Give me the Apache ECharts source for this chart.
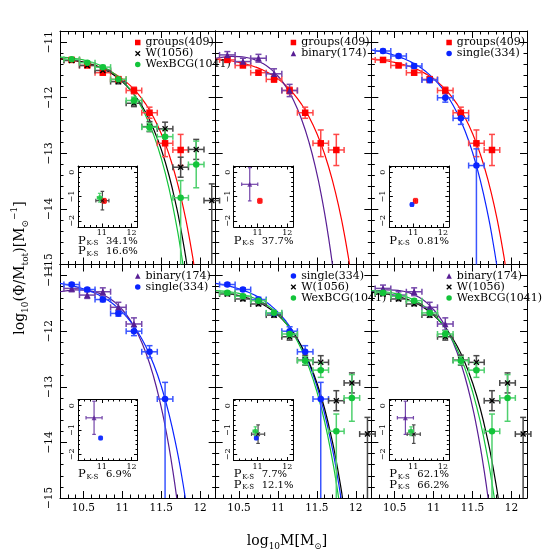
<!DOCTYPE html>
<html><head><meta charset="utf-8">
<script src="https://cdn.jsdelivr.net/npm/echarts@6/dist/echarts.min.js"></script>
<style>html,body{margin:0;padding:0;background:#fff}#c{width:558px;height:558px}</style>
</head><body><div id="c"></div>
<script>
// ================= DATA =================
// binned mass functions: log10 M (bin centres) and log10(Phi/Mtot)
const groupsX = [10.35,10.55,10.75,10.95,11.15,11.35,11.55,11.75];
const groupsY = [-11.32,-11.42,-11.55,-11.67,-11.87,-12.27,-12.82,-12.94];
const groupsErrLo = [0.03,0.03,0.04,0.05,0.06,0.10,0.24,0.28];
const groupsErrHi = [0.03,0.03,0.04,0.05,0.06,0.10,0.24,0.28];

const wX = [10.35,10.55,10.75,10.95,11.15,11.35,11.55,11.75,11.95,12.15];
const wY = [-11.33,-11.42,-11.51,-11.71,-12.10,-12.52,-12.56,-13.25,-12.93,-13.85];
const wErrLo = [0.03,0.03,0.03,0.04,0.06,0.09,0.12,0.18,0.18,9];
const wErrHi = [0.03,0.03,0.03,0.04,0.06,0.09,0.12,0.18,0.18,0.30];

const wexX = [10.35,10.55,10.75,10.95,11.15,11.35,11.55,11.75,11.95];
const wexY = [-11.31,-11.37,-11.45,-11.67,-12.05,-12.53,-12.70,-13.80,-13.20];
const wexErrLo = [0.03,0.03,0.03,0.04,0.06,0.07,0.13,9,0.42];
const wexErrHi = [0.03,0.03,0.03,0.04,0.06,0.07,0.13,0.31,0.42];

const binaryX = [10.35,10.55,10.75,10.95,11.15];
const binaryY = [-11.23,-11.35,-11.29,-11.57,-11.87];
const binaryErrLo = [0.06,0.06,0.07,0.09,0.11];
const binaryErrHi = [0.06,0.06,0.07,0.09,0.11];

const singleX = [10.35,10.55,10.75,10.95,11.15,11.35,11.55];
const singleY = [-11.16,-11.25,-11.43,-11.68,-12.00,-12.37,-13.22];
const singleErrLo = [0.03,0.03,0.04,0.05,0.08,0.11,9];
const singleErrHi = [0.03,0.03,0.04,0.05,0.08,0.11,0.30];

const massHalfBin = 0.1;

// fitted curves
const groupsCurveX = [10.2,10.3,10.4,10.5,10.6,10.7,10.8,10.9,11.0,11.1,11.2,11.3,11.4,11.5,11.6,11.7,11.8,11.85,11.9,11.92];
const groupsCurveY = [-11.30,-11.316,-11.337,-11.364,-11.398,-11.442,-11.498,-11.571,-11.662,-11.778,-11.925,-12.111,-12.346,-12.642,-13.015,-13.486,-14.079,-14.433,-14.828,-15.0];
const wCurveX = [10.2,10.3,10.4,10.5,10.6,10.7,10.8,10.9,11.0,11.1,11.2,11.3,11.4,11.5,11.6,11.7,11.75,11.8,11.83];
const wCurveY = [-11.30,-11.314,-11.333,-11.361,-11.399,-11.449,-11.515,-11.601,-11.711,-11.852,-12.033,-12.263,-12.555,-12.926,-13.395,-13.988,-14.342,-14.738,-15.0];
const wexCurveX = [10.2,10.3,10.4,10.5,10.6,10.7,10.8,10.9,11.0,11.1,11.2,11.3,11.4,11.5,11.6,11.7,11.74,11.78];
const wexCurveY = [-11.27,-11.278,-11.295,-11.320,-11.357,-11.408,-11.478,-11.571,-11.693,-11.851,-12.057,-12.319,-12.656,-13.084,-13.628,-14.318,-14.644,-15.0];
const binaryCurveX = [10.2,10.3,10.4,10.5,10.6,10.7,10.8,10.9,11.0,11.1,11.2,11.3,11.4,11.5,11.55,11.6,11.65,11.7];
const binaryCurveY = [-11.29,-11.269,-11.258,-11.260,-11.278,-11.316,-11.379,-11.474,-11.610,-11.796,-12.045,-12.375,-12.806,-13.364,-13.701,-14.082,-14.513,-15.0];
const singleCurveX = [10.2,10.3,10.4,10.5,10.6,10.7,10.8,10.9,11.0,11.1,11.2,11.3,11.4,11.5,11.6,11.7,11.76,11.81];
const singleCurveY = [-11.14,-11.165,-11.197,-11.237,-11.287,-11.350,-11.430,-11.530,-11.656,-11.815,-12.015,-12.267,-12.584,-12.983,-13.485,-14.117,-14.573,-15.0];

// inset fit parameters (log M*, alpha)
const insetKeys = ['groups','W','WexBCG','binary','single'];
const insetMstar = [11.08,11.02,10.93,10.74,10.96];
const insetMstarErr = [0.07,0.22,0.08,0.27,0.05];
const insetAlpha = [-1.18,-1.17,-1.05,-0.50,-1.33];
const insetAlphaErr = [0.10,0.38,0.18,0.68,0.07];

// panels
const panelSamples = [['groups','W','WexBCG'],['groups','binary'],['groups','single'],
                      ['binary','single'],['single','W','WexBCG'],['binary','W','WexBCG']];
const pksValues = [['34.1%','16.6%'],['37.7%'],['0.81%'],['6.9%'],['7.7%','12.1%'],['62.1%','66.2%']];
const sampleLabels = {groups:'groups(409)', W:'W(1056)', WexBCG:'WexBCG(1041)', binary:'binary(174)', single:'single(334)'};

// axis ticks
const xMajor = [10.5,11,11.5,12];
const xMinor = [10.3,10.4,10.6,10.7,10.8,10.9,11.1,11.2,11.3,11.4,11.6,11.7,11.8,11.9,12.1];
const yMajor = [-15,-14,-13,-12,-11];
const yMinor = [-14.8,-14.6,-14.4,-14.2,-13.8,-13.6,-13.4,-13.2,-12.8,-12.6,-12.4,-12.2,-11.8,-11.6,-11.4,-11.2,-10.8];
const inXMajor = [11,12];
const inXMinor = [10.4,10.6,10.8,11.2,11.4,11.6,11.8];
const inYMajor = [-2,-1,0];
const inYMinor = [-1.8,-1.6,-1.4,-1.2,-0.8,-0.6,-0.4,-0.2,0.2];

// ================= STYLE =================
const X_RANGE = [10.2,12.2], Y_RANGE = [-15,-10.8];
const IN_X_RANGE = [10.2,12.2], IN_Y_RANGE = [-2.25,0.25];
const FONT = 'DejaVu Serif';
const style = {
  groups: {color:'#ff0000', bar:'#ff4848', symbol:'rect', size:6.5},
  W:      {color:'#000000', bar:'#4a4a4a', symbol:'path://M0,1.6L1.6,0L5,3.4L8.4,0L10,1.6L6.6,5L10,8.4L8.4,10L5,6.6L1.6,10L0,8.4L3.4,5Z', size:6},
  WexBCG: {color:'#13c43a', bar:'#4fd06e', symbol:'circle', size:6.5},
  binary: {color:'#581e94', bar:'#7446aa', symbol:'triangle', size:6.5},
  single: {color:'#0a24ff', bar:'#3a55ff', symbol:'circle', size:6.5}
};
const sampleData = {
  groups: [groupsX, groupsY, groupsErrLo, groupsErrHi, groupsCurveX, groupsCurveY],
  W: [wX, wY, wErrLo, wErrHi, wCurveX, wCurveY],
  WexBCG: [wexX, wexY, wexErrLo, wexErrHi, wexCurveX, wexCurveY],
  binary: [binaryX, binaryY, binaryErrLo, binaryErrHi, binaryCurveX, binaryCurveY],
  single: [singleX, singleY, singleErrLo, singleErrHi, singleCurveX, singleCurveY]
};

const PL = 60, PW = 155.67, PT = 31, PH = 233.5;
function panelRect(i){ return {left: PL + (i%3)*PW, top: PT + Math.floor(i/3)*PH, width: PW, height: PH}; }

const opt = {animation:false, backgroundColor:'#fff', grid:[], xAxis:[], yAxis:[], series:[], legend:[], graphic:[]};
const minusFmt = v => String(v).replace('-', '\u2212');

function addFrame(rect, xr, yr, xMaj, xMin, yMaj, yMin, tMaj, tMin, showX, showY, fs, marg) {
  const g = opt.grid.length;
  opt.grid.push({left:rect.left, top:rect.top, width:rect.width, height:rect.height, show:false, containLabel:false, outerBoundsMode:'none'});
  const xi = opt.xAxis.length, yi = opt.yAxis.length;
  const line = {show:true, onZero:false, lineStyle:{color:'#000', width:1}};
  const noLine = {show:false, onZero:false};
  const tickStyle = {color:'#000', width:1};
  const lab = {fontFamily:FONT, fontSize:fs, color:'#000', margin:marg};
  ['bottom','top'].forEach((pos,k) => {
    opt.xAxis.push({type:'value', gridIndex:g, position:pos, min:xr[0], max:xr[1], axisLine:line, splitLine:{show:false},
      axisTick:{show:true, inside:true, length:tMaj, customValues:xMaj, lineStyle:tickStyle},
      axisLabel:Object.assign({show:k===0 && showX, customValues:xMaj, formatter:minusFmt}, lab)});
    opt.xAxis.push({type:'value', gridIndex:g, position:pos, min:xr[0], max:xr[1], axisLine:noLine, splitLine:{show:false},
      axisTick:{show:true, inside:true, length:tMin, customValues:xMin, lineStyle:tickStyle}, axisLabel:{show:false}});
  });
  ['left','right'].forEach((pos,k) => {
    opt.yAxis.push({type:'value', gridIndex:g, position:pos, min:yr[0], max:yr[1], axisLine:line, splitLine:{show:false},
      axisTick:{show:true, inside:true, length:tMaj, customValues:yMaj, lineStyle:tickStyle},
      axisLabel:Object.assign({show:k===0 && showY, customValues:yMaj, rotate:90, formatter:minusFmt}, lab)});
    opt.yAxis.push({type:'value', gridIndex:g, position:pos, min:yr[0], max:yr[1], axisLine:noLine, splitLine:{show:false},
      axisTick:{show:true, inside:true, length:tMin, customValues:yMin, lineStyle:tickStyle}, axisLabel:{show:false}});
  });
  return {xi, yi};
}

function errRender(color, yFloor, cap, lw) {
  return function(params, api) {
    const x = api.value(0), y = api.value(1);
    const c = api.coord([x, y]);
    const pL = api.coord([x - api.value(2), y]), pR = api.coord([x + api.value(3), y]);
    let yLo = y - api.value(4), capLo = true;
    if (yLo < yFloor) { yLo = yFloor; capLo = false; }
    const pB = api.coord([x, yLo]), pT = api.coord([x, y + api.value(5)]);
    const st = {stroke: color, lineWidth: lw};
    const ch = [
      {type:'line', shape:{x1:pL[0], y1:c[1], x2:pR[0], y2:c[1]}, style:st},
      {type:'line', shape:{x1:c[0], y1:pB[1], x2:c[0], y2:pT[1]}, style:st},
      {type:'line', shape:{x1:pL[0], y1:c[1]-cap, x2:pL[0], y2:c[1]+cap}, style:st},
      {type:'line', shape:{x1:pR[0], y1:c[1]-cap, x2:pR[0], y2:c[1]+cap}, style:st},
      {type:'line', shape:{x1:c[0]-cap, y1:pT[1], x2:c[0]+cap, y2:pT[1]}, style:st}
    ];
    if (capLo) ch.push({type:'line', shape:{x1:c[0]-cap, y1:pB[1], x2:c[0]+cap, y2:pB[1]}, style:st});
    return {type:'group', children:ch};
  };
}

for (let p = 0; p < 6; p++) {
  const r = panelRect(p);
  const col = p % 3, row = Math.floor(p/3);
  const main = addFrame(r, X_RANGE, Y_RANGE, xMajor, xMinor, yMajor, yMinor, 7, 3.5, row===1, col===0, 10.5, 5);
  const ir = {left:r.left+18, top:r.top+135, width:59.5, height:61};
  const ins = addFrame(ir, IN_X_RANGE, IN_Y_RANGE, inXMajor, inXMinor, inYMajor, inYMinor, 3.5, 2, true, true, 8, 2);
  const names = [];
  panelSamples[p].forEach(key => {
    const s = style[key];
    const [xs, ys, lo, hi, cx, cy] = sampleData[key];
    names.push(sampleLabels[key]);
    opt.series.push({type:'line', xAxisIndex:main.xi, yAxisIndex:main.yi, data:cx.map((v,i)=>[v, cy[i]]),
      showSymbol:false, smooth:0.5, lineStyle:{color:s.color, width:1.2}, z:2, silent:true});
    opt.series.push({type:'custom', xAxisIndex:main.xi, yAxisIndex:main.yi, renderItem:errRender(s.bar, Y_RANGE[0], 3, 1.5),
      data:xs.map((v,i)=>[v, ys[i], massHalfBin, massHalfBin, lo[i], hi[i]]), z:3, silent:true});
    opt.series.push({type:'scatter', name:sampleLabels[key], xAxisIndex:main.xi, yAxisIndex:main.yi,
      data:xs.map((v,i)=>[v, ys[i]]), symbol:s.symbol, symbolSize:s.size, itemStyle:{color:s.color, opacity:1}, z:4, silent:true});
    const k = insetKeys.indexOf(key);
    opt.series.push({type:'custom', xAxisIndex:ins.xi, yAxisIndex:ins.yi, renderItem:errRender(s.bar, IN_Y_RANGE[0], 1.8, 1.2),
      data:[[insetMstar[k], insetAlpha[k], insetMstarErr[k], insetMstarErr[k], insetAlphaErr[k], insetAlphaErr[k]]], z:5, silent:true});
    opt.series.push({type:'scatter', xAxisIndex:ins.xi, yAxisIndex:ins.yi, data:[[insetMstar[k], insetAlpha[k]]],
      symbol:s.symbol, symbolSize:s.size-1.5, itemStyle:{color:s.color}, z:6, silent:true});
  });
  opt.legend.push({orient:'vertical', left:r.left+75, top:r.top+6, itemWidth:5.5, itemHeight:5.5, itemGap:0, padding:0,
    selectedMode:false, data:names, textStyle:{fontFamily:FONT, fontSize:11, color:'#000', lineHeight:10.5}});
  const vals = pksValues[p];
  vals.forEach((v, i) => {
    const yc = r.top + (vals.length === 1 ? 210 : 210 + i*10.5);
    opt.graphic.push({type:'text', x:r.left+18, y:yc, style:{text:'P', font:'11.5px "'+FONT+'"', fill:'#000', verticalAlign:'middle'}});
    opt.graphic.push({type:'text', x:r.left+26.5, y:yc+2.5, style:{text:'K-S', font:'7px "'+FONT+'"', fill:'#000', verticalAlign:'middle'}});
    opt.graphic.push({type:'text', x:r.left+46, y:yc, style:{text:v, font:'10px "'+FONT+'"', fill:'#000', verticalAlign:'middle'}});
  });
}

// axis titles
opt.graphic.push({type:'text', x:20, y:268, rotation:Math.PI/2, style:{
  text:'{b|log}{s|10}{b|(Φ/M}{s|tot}{b|)[M}{s|⊙}{u|−1}{b|]}', align:'center', verticalAlign:'middle',
  rich:{b:{fontFamily:FONT, fontSize:14, lineHeight:20, verticalAlign:'middle'},
        s:{fontFamily:FONT, fontSize:9, lineHeight:20, verticalAlign:'bottom'},
        u:{fontFamily:FONT, fontSize:9, lineHeight:20, verticalAlign:'top'}}}});
opt.graphic.push({type:'text', x:287, y:541, style:{
  text:'{b|log}{s|10}{b|M[M}{s|⊙}{b|]}', align:'center', verticalAlign:'middle',
  rich:{b:{fontFamily:FONT, fontSize:14, lineHeight:20, verticalAlign:'middle'},
        s:{fontFamily:FONT, fontSize:9, lineHeight:20, verticalAlign:'bottom'}}}});

const chart = echarts.init(document.getElementById('c'), null, {renderer:'canvas'});
chart.setOption(opt);
</script>
</body></html>
